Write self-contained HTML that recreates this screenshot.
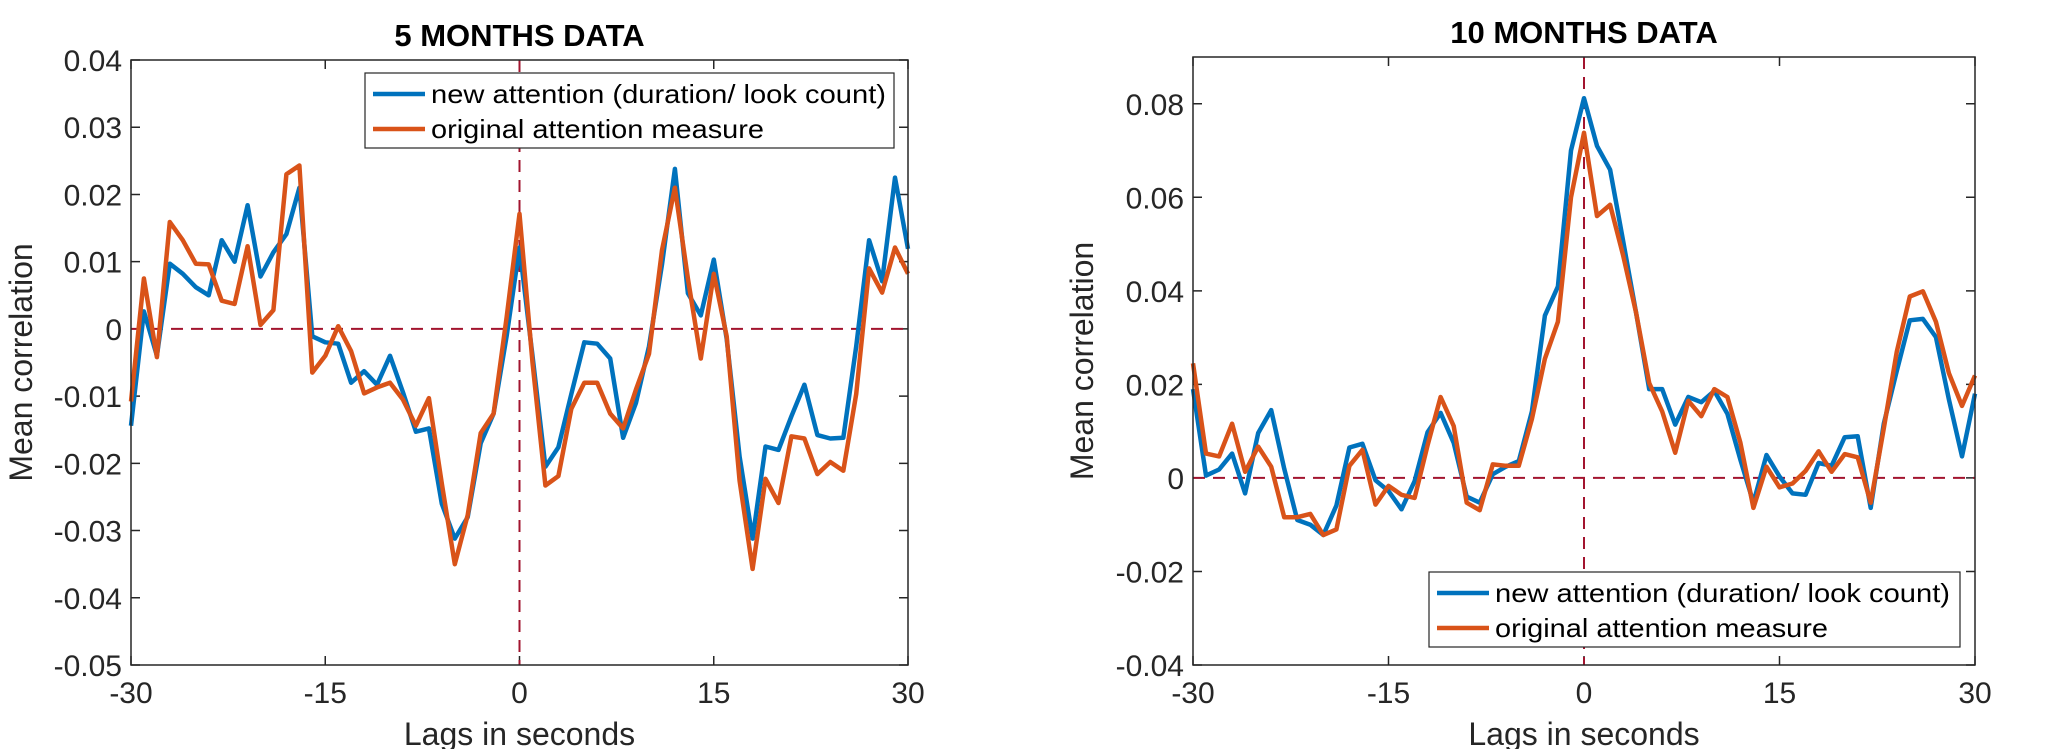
<!DOCTYPE html>
<html><head><meta charset="utf-8"><style>
html,body{margin:0;padding:0;background:#fff;}
svg{display:block;font-family:"Liberation Sans",Arial,sans-serif;}
</style></head><body>
<svg id="fig" width="2060" height="749" viewBox="0 0 2060 749"></svg>
<script>
const lags = [];
for (let l = -30; l <= 30; l++) lags.push(l);
const xTicks = [-30, -15, 0, 15, 30];
const xTickLabels = ["-30", "-15", "0", "15", "30"];
const yTicks5 = [0.04, 0.03, 0.02, 0.01, 0, -0.01, -0.02, -0.03, -0.04, -0.05];
const yTickLabels5 = ["0.04","0.03","0.02","0.01","0","-0.01","-0.02","-0.03","-0.04","-0.05"];
const yTicks10 = [0.08, 0.06, 0.04, 0.02, 0, -0.02, -0.04];
const yTickLabels10 = ["0.08","0.06","0.04","0.02","0","-0.02","-0.04"];
const newAtt5 = [-0.0144,0.0026,-0.004,0.0097,0.0082,0.0062,0.005,0.0132,0.010,0.0184,0.0078,0.0114,0.0141,0.021,-0.0011,-0.002,-0.0022,-0.008,-0.0063,-0.0083,-0.004,-0.0094,-0.0153,-0.0148,-0.026,-0.0312,-0.028,-0.017,-0.0126,-0.0011,0.0121,-0.004,-0.0205,-0.0176,-0.0097,-0.002,-0.0022,-0.0044,-0.0162,-0.011,-0.0026,0.0096,0.0238,0.0053,0.002,0.0103,-0.0015,-0.019,-0.0312,-0.0175,-0.018,-0.013,-0.0083,-0.0158,-0.0163,-0.0162,-0.0026,0.0132,0.0071,0.0225,0.0119];
const orig5 = [-0.0108,0.0075,-0.0042,0.0159,0.0132,0.0097,0.0096,0.0042,0.0037,0.0123,0.0006,0.0028,0.023,0.0243,-0.0065,-0.004,0.0004,-0.0033,-0.0096,-0.0087,-0.008,-0.0105,-0.0144,-0.0103,-0.023,-0.035,-0.0277,-0.0155,-0.0126,0.0017,0.0171,-0.005,-0.0233,-0.0219,-0.0119,-0.008,-0.008,-0.0126,-0.0148,-0.009,-0.0037,0.0117,0.021,0.0075,-0.0044,0.0082,-0.0011,-0.0226,-0.0357,-0.0223,-0.0259,-0.016,-0.0163,-0.0216,-0.0198,-0.0211,-0.0097,0.009,0.0054,0.0121,0.0082];
const newAtt10 = [0.019,0.0005,0.0018,0.0052,-0.0033,0.0096,0.0145,0.002,-0.009,-0.01,-0.0122,-0.0059,0.0065,0.0073,-0.0005,-0.0028,-0.0067,-0.0007,0.0098,0.0139,0.0075,-0.004,-0.0053,0.0008,0.0024,0.0036,0.0142,0.0347,0.0409,0.07,0.0812,0.071,0.0659,0.0507,0.0353,0.019,0.019,0.0114,0.0173,0.0162,0.0186,0.0137,0.0039,-0.0053,0.0049,0.0003,-0.0033,-0.0036,0.0032,0.0026,0.0087,0.0089,-0.0064,0.0116,0.0229,0.0337,0.034,0.0301,0.0168,0.0046,0.018];
const orig10 = [0.0245,0.0052,0.0046,0.0116,0.0013,0.0067,0.0024,-0.0084,-0.0084,-0.0077,-0.0122,-0.011,0.0026,0.006,-0.0057,-0.0017,-0.0036,-0.0043,0.007,0.0173,0.0111,-0.0053,-0.0069,0.0029,0.0026,0.0026,0.0126,0.0255,0.0334,0.06,0.0738,0.056,0.0584,0.0476,0.0353,0.0203,0.0142,0.0054,0.0165,0.0132,0.019,0.0173,0.0075,-0.0064,0.0024,-0.002,-0.0012,0.0015,0.0057,0.0013,0.0051,0.0044,-0.0053,0.0106,0.027,0.0388,0.0399,0.0334,0.0224,0.0154,0.0219];

const NS = "http://www.w3.org/2000/svg";
const svg = document.getElementById("fig");
function mk(tag, attrs, parent) {
  const e = document.createElementNS(NS, tag);
  for (const k in attrs) e.setAttribute(k, attrs[k]);
  (parent || svg).appendChild(e);
  return e;
}
function panel(cfg) {
  const g = mk("g", {});
  
  
  const L = cfg.x0, R = cfg.x1, T = cfg.y0, B = cfg.y1;
  const xs = v => L + (v + 30) / 60 * (R - L);
  const ys = v => B - (v - cfg.ymin) / (cfg.ymax - cfg.ymin) * (B - T);
  // ticks
  xTicks.forEach((t, i) => {
    const x = xs(t);
    const tk = mk("path", {d: `M${x},${B}v-9M${x},${T}v9`, stroke: "#262626", "stroke-width": 1.5}, g);
    
    
    const tl = mk("text", {x: x, y: B + 38, "text-anchor": "middle", "font-size": 30, fill: "#262626"}, g);
    tl.textContent = xTickLabels[i];
    
    
  });
  cfg.yt.forEach((t, i) => {
    const y = ys(t);
    const tk = mk("path", {d: `M${L},${y}h9M${R},${y}h-9`, stroke: "#262626", "stroke-width": 1.5}, g);
    
    
    const tl = mk("text", {x: L - 9, y: y + 11, "text-anchor": "end", "font-size": 30, fill: "#262626"}, g);
    tl.textContent = cfg.ytl[i];
    
    
  });
  // ref lines
  const h0 = mk("line", {x1: L, x2: R, y1: ys(0), y2: ys(0), stroke: "#A2142F", "stroke-width": 2, "stroke-dasharray": "12,8"}, g);
  
  
  const v0 = mk("line", {x1: xs(0), x2: xs(0), y1: T, y2: B, stroke: "#A2142F", "stroke-width": 2, "stroke-dasharray": "12,8"}, g);
  
  
  // series
  [[cfg.blue, "#0072BD", "series-new-attention"], [cfg.orange, "#D95319", "series-original-attention"]].forEach(s => {
    const d = s[0].map((v, i) => (i ? "L" : "M") + xs(lags[i]).toFixed(1) + "," + ys(v).toFixed(1)).join("");
    const p = mk("path", {d: d, fill: "none", stroke: s[1], "stroke-width": 4.5, "stroke-linejoin": "round"}, g);
    
    
  });
  const box = mk("rect", {x: L, y: T, width: R - L, height: B - T, fill: "none", stroke: "#262626", "stroke-width": 1.5}, g);
  
  
  const title = mk("text", {x: (L + R) / 2, y: T - 14, "text-anchor": "middle", "font-size": 31, "font-weight": "bold", fill: "#000"}, g);
  title.textContent = cfg.title;
  
  
  const xl = mk("text", {x: (L + R) / 2, y: 745, "text-anchor": "middle", "font-size": 32, fill: "#262626"}, g);
  xl.textContent = "Lags in seconds";
  
  
  const yl = mk("text", {x: 0, y: 0, "text-anchor": "middle", "font-size": 32, fill: "#262626", transform: `translate(${cfg.ylx},${(T + B) / 2}) rotate(-90)`}, g);
  yl.textContent = "Mean correlation";
  
  
  // legend
  const lg = mk("g", {}, g);
  
  
  const lr = mk("rect", {x: cfg.lx, y: cfg.ly, width: cfg.lw, height: 75, fill: "#fff", stroke: "#262626", "stroke-width": 1.2}, lg);
  
  
  [["new attention (duration/ look count)", "#0072BD"], ["original attention measure", "#D95319"]].forEach((e, i) => {
    const y = cfg.ly + 21 + i * 35;
    const ln = mk("line", {x1: cfg.lx + 8, x2: cfg.lx + 60, y1: y, y2: y, stroke: e[1], "stroke-width": 4.5}, lg);
    
    
    const tx = mk("text", {x: cfg.lx + 66, y: y + 9, "font-size": 26, fill: "#000", textLength: i ? 333 : 455, lengthAdjust: "spacingAndGlyphs"}, lg);
    tx.textContent = e[0];
    
    
  });
}
panel({name: "panel-5-months", x0: 131, x1: 908, y0: 60, y1: 665, ymin: -0.05, ymax: 0.04, yt: yTicks5, ytl: yTickLabels5,
  blue: newAtt5, orange: orig5, title: "5 MONTHS DATA", ylx: 32, lx: 365, ly: 73, lw: 529});
panel({name: "panel-10-months", x0: 1193, x1: 1975, y0: 57, y1: 665, ymin: -0.04, ymax: 0.09, yt: yTicks10, ytl: yTickLabels10,
  blue: newAtt10, orange: orig10, title: "10 MONTHS DATA", ylx: 1093, lx: 1429, ly: 572, lw: 531});
</script>
</body></html>
